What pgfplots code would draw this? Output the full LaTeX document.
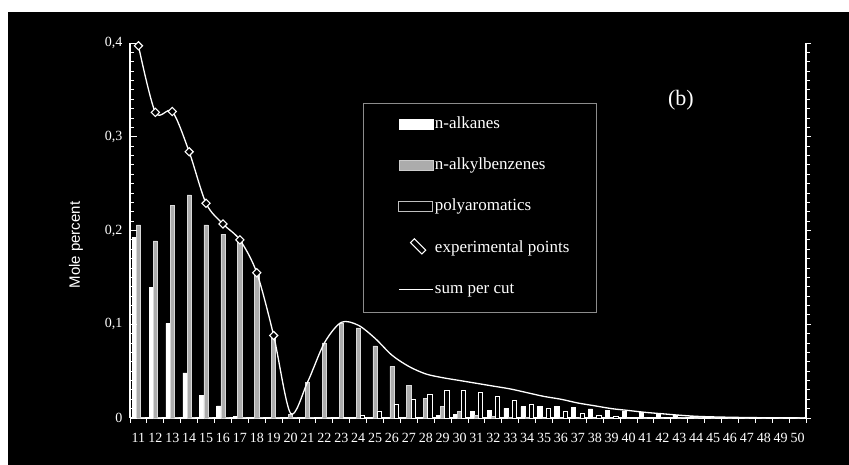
\documentclass[border=0pt]{standalone}
\usepackage{pgfplots}
\usepackage{pgfplotstable}
\pgfplotsset{compat=1.18}
\usepackage{fontspec}
\setmainfont{Liberation Serif}
\setsansfont{Liberation Sans}
\definecolor{stip}{RGB}{172,172,172}

% mole percent per carbon number
\pgfplotstableread{
c  alk    benz   poly   sum
11 0.193  0.206  0      0.397
12 0.139  0.189  0      0.326
13 0.101  0.227  0      0.327
14 0.048  0.238  0      0.284
15 0.0245 0.206  0      0.229
16 0.013  0.196  0      0.207
17 0.002  0.189  0      0.190
18 0.001  0.155  0      0.155
19 0.0005 0.088  0      0.088
20 0      0.004  0      0.005
21 0      0.038  0      0.038
22 0      0.080  0      0.080
23 0.001  0.101  0.001  0.102
24 0      0.096  0.003  0.099
25 0      0.077  0.0075 0.085
26 0      0.055  0.014  0.067
27 0      0.035  0.020  0.055
28 0.001  0.021  0.025  0.047
29 0.003  0.012  0.029  0.043
30 0.004  0.0067 0.029  0.040
31 0.007  0.003  0.027  0.037
32 0.0085 0.002  0.023  0.034
33 0.0103 0.001  0.0185 0.031
34 0.012  0.0005 0.0146 0.027
35 0.012  0      0.0103 0.023
36 0.012  0      0.0075 0.020
37 0.011  0      0.005  0.016
38 0.0096 0      0.0025 0.013
39 0.0085 0      0.0017 0.010
40 0.0075 0      0.001  0.008
41 0.0057 0      0.0005 0.006
42 0.0043 0      0.0003 0.0045
43 0.0025 0      0      0.003
44 0.0015 0      0      0.0018
45 0.001  0      0      0.0012
46 0.0007 0      0      0.0008
47 0.0005 0      0      0.0005
48 0.0003 0      0      0.0003
49 0.0002 0      0      0.0002
50 0.0001 0      0      0.0001
}\data

\pgfplotstableread{
c  exp
11 0.397
12 0.326
13 0.327
14 0.284
15 0.229
16 0.207
17 0.190
18 0.155
19 0.088
}\expdata

\begin{document}
\begin{tikzpicture}[x=1pt,y=1pt]
\useasboundingbox (0,0) rectangle (849,465);
\fill[white] (0,0) rectangle (849,465);
\fill[black] (8,0) rectangle (849,453);

% data, x axis, legend
\begin{axis}[
 at={(130pt,47pt)}, anchor=south west,
 scale only axis, width=676pt, height=375pt,
 xmin=10.5, xmax=50.5, ymin=0, ymax=0.4,
 axis x line*=bottom, axis y line=none,
 x axis line style={white, line width=1.2pt},
 xtick={11,...,50}, minor xtick={10.5,11.5,...,50.5},
 major x tick style={draw=none}, minor x tick style={white, line width=1pt},
 tick align=outside, major tick length=0pt, minor tick length=5pt,
 /pgf/number format/assume math mode=true,
 xticklabel style={text=white, font=\fontsize{14}{16}\selectfont, yshift=-12pt},
 clip=false,
 legend style={at={(rel axis cs:0.3964,0.808)}, anchor=north west,
   draw=none, fill=none, text=white, inner sep=0pt, row sep=22pt,
   font=\fontsize{17}{20}\selectfont,
   nodes={inner sep=1.5pt, text height=12pt, text depth=4pt}},
 legend cell align=left,
]
\addplot[ybar, bar width=0.25, bar shift=-0.25, fill=white, draw=white, line width=0.6pt, forget plot]
  table[x=c, y=alk] {\data};
\addplot[ybar, bar width=0.25, bar shift=0, fill=stip, draw=white!85!black, line width=0.6pt, forget plot]
  table[x=c, y=benz] {\data};
\addplot[ybar, bar width=0.25, bar shift=0.25, fill=black, draw=white, line width=0.8pt, forget plot]
  table[x=c, y=poly] {\data};
\addplot[white, line width=1.3pt, smooth, no marks, forget plot]
  table[x=c, y=sum] {\data};
\addplot[only marks, mark=square*, mark size=2.9pt,
  mark options={rotate=45, fill=black, draw=white, line width=1.1pt}, forget plot]
  table[x=c, y=exp] {\expdata};

\addlegendimage{legend image code/.code={\fill[white] (0pt,-5pt) rectangle (34pt,5pt);}}
\addlegendentry{n-alkanes}
\addlegendimage{legend image code/.code={\filldraw[fill=stip, draw=white!80!black] (0pt,-5pt) rectangle (34pt,5pt);}}
\addlegendentry{n-alkylbenzenes}
\addlegendimage{legend image code/.code={\draw[white!75!black, line width=0.8pt] (0pt,-5pt) rectangle (34pt,5pt);}}
\addlegendentry{polyaromatics}
\addlegendimage{legend image code/.code={\path (0pt,0pt) -- (34pt,0pt);
  \node[draw=white, fill=black, line width=1.1pt, minimum size=5.5pt, inner sep=0pt, rotate=45] at (17pt,0pt) {};}}
\addlegendentry{experimental points}
\addlegendimage{legend image code/.code={\draw[white, line width=1.3pt] (0pt,0pt) -- (34pt,0pt);}}
\addlegendentry{sum per cut}

\draw[white!55!black, line width=0.8pt] (rel axis cs:0.3447,0.840) rectangle (rel axis cs:0.6893,0.2827);
\node[text=white, font=\fontsize{22}{25}\selectfont] at (rel axis cs:0.815,0.848) {(b)};
\end{axis}

% left y axis
\begin{axis}[
 at={(130pt,47pt)}, anchor=south west,
 scale only axis, width=676pt, height=375pt,
 xmin=10.5, xmax=50.5, ymin=0, ymax=0.4,
 axis y line*=left, axis x line=none,
 y axis line style={white, line width=1.2pt},
 ytick={0,0.1,0.2,0.3,0.4}, yticklabels={0,{0,1},{0,2},{0,3},{0,4}},
 minor y tick num=9, tick align=inside, major tick length=7pt, minor tick length=4pt,
 every tick/.style={white, line width=0.9pt},
 yticklabel style={text=white, font=\fontsize{14}{16}\selectfont, xshift=-4pt},
 ylabel={Mole percent},
 ylabel style={text=white, font=\sffamily\fontsize{15}{18}\selectfont,
   at={(axis description cs:-0.08,0.461)}, anchor=center},
]
\end{axis}

% right y axis
\begin{axis}[
 at={(130pt,47pt)}, anchor=south west,
 scale only axis, width=676pt, height=375pt,
 xmin=10.5, xmax=50.5, ymin=0, ymax=0.4,
 axis y line*=right, axis x line=none,
 y axis line style={white, line width=1.2pt},
 ytick={0,0.1,0.2,0.3,0.4}, yticklabel={},
 minor y tick num=9, tick align=outside, major tick length=5pt, minor tick length=4pt,
 every tick/.style={white, line width=0.9pt},
]
\end{axis}
\end{tikzpicture}
\end{document}
